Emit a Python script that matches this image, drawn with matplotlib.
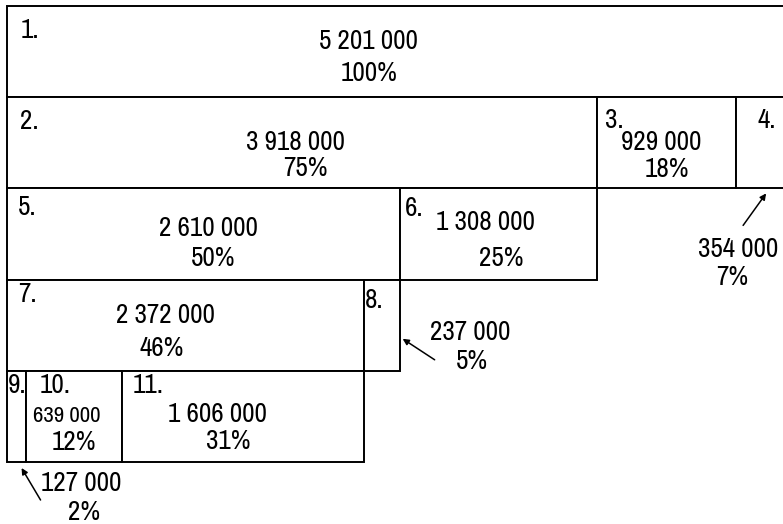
import matplotlib
matplotlib.use("Agg")
import matplotlib.pyplot as plt

plt.rcParams['font.family'] = ['Archivo Narrow', 'Roboto Condensed', 'DejaVu Sans']

# boxes of the breakdown, parent 0 = root
box_ids = [1, 2, 3, 4, 5, 6, 7, 8, 9, 10, 11]
values = [5201000, 3918000, 929000, 354000, 2610000, 1308000,
          2372000, 237000, 127000, 639000, 1606000]
shares = [100, 75, 18, 7, 50, 25, 46, 5, 2, 12, 31]
parents = [0, 1, 1, 1, 2, 2, 5, 5, 7, 7, 7]

# layout (pixels) -----------------------------------------------------
XPX = 150.5   # px per million
YPX = 91.2    # px per row
X0, Y0 = 7, 6  # where the first box starts

# label "n." : offset from box top-left
label_off = {1: (14, 24), 2: (13, 24), 3: (8, 23), 4: (21, 23), 5: (11, 19), 6: (5, 20),
             7: (11, 15), 8: (1, 21), 9: (1, 15), 10: (14, 15), 11: (10, 15)}
# value / share inside the box : offset from box centre
num_off = {1: (-30, -10), 2: (-6, 0), 3: (-5, 0), 5: (5, -6), 6: (-13, -11),
           7: (-20, -10), 10: (-7, 0), 11: (-26, -2)}
pct_off = {1: (-29, 22), 2: (4, 26), 3: (0, 27), 5: (10, 25), 6: (3, 24),
           7: (-24, 23), 10: (0, 26), 11: (-15, 25)}
# small boxes get their numbers outside, with an arrow
# anchor, arrow head, arrow tail, value, share
callout = {4: ('center', (3, 5), (-20, 37), (-25, 61), (-31, 89)),
           8: ('right', (3, -32), (35, -11), (71, -38), (72, -9)),
           9: ('center', (5, 6), (24, 38), (65, 21), (68, 50))}
small_font = {10: 16.5}
FS = 19.5


def fmt(v):
    return f"{v:,}".replace(",", " ")


def px(x, y, dx, dy):
    return x + dx / XPX, y + dy / YPX


# positions from the tree
level, start, used = {}, {}, {}
for b, v, p in zip(box_ids, values, parents):
    if p == 0:
        level[b], start[b] = 0, 0.0
    else:
        level[b] = level[p] + 1
        start[b] = start[p] + used.get(p, 0.0)
        used[p] = used.get(p, 0.0) + v / 1e6

fig = plt.figure(figsize=(7.83, 5.24), dpi=100)
ax = fig.add_axes([0, 0, 1, 1])
ax.set_xlim(-X0 / XPX, (783 - X0) / XPX)
ax.set_ylim((524 - Y0) / YPX, -Y0 / YPX)
ax.axis('off')

ax.bar([start[b] for b in box_ids], [1] * len(box_ids),
       width=[v / 1e6 for v in values], bottom=[level[b] for b in box_ids],
       align='edge', facecolor='white', edgecolor='black', linewidth=1.4)

for b, v, s in zip(box_ids, values, shares):
    x0 = start[b]
    x1 = x0 + v / 1e6
    yt = level[b]
    xc, yc = (x0 + x1) / 2, yt + 0.5
    ax.text(*px(x0, yt, *label_off[b]), f"{b}.", ha='left', va='center', fontsize=FS)
    fs = small_font.get(b, FS)
    if b in num_off:
        ax.text(*px(xc, yc, *num_off[b]), fmt(v), ha='center', va='center', fontsize=fs)
        ax.text(*px(xc, yc, *pct_off[b]), f"{s}%", ha='center', va='center', fontsize=FS)
    elif b in callout:
        anchor, head, tail, noff, poff = callout[b]
        ax_x = xc if anchor == 'center' else x1
        ay = yt + 1
        ax.annotate('', xy=px(ax_x, ay, *head), xytext=px(ax_x, ay, *tail),
                    arrowprops=dict(arrowstyle='-|>', color='black', lw=1.1,
                                    mutation_scale=9, shrinkA=0, shrinkB=0))
        ax.text(*px(ax_x, ay, *noff), fmt(v), ha='center', va='center', fontsize=FS)
        ax.text(*px(ax_x, ay, *poff), f"{s}%", ha='center', va='center', fontsize=FS)

fig.savefig('out.png', dpi=100)
